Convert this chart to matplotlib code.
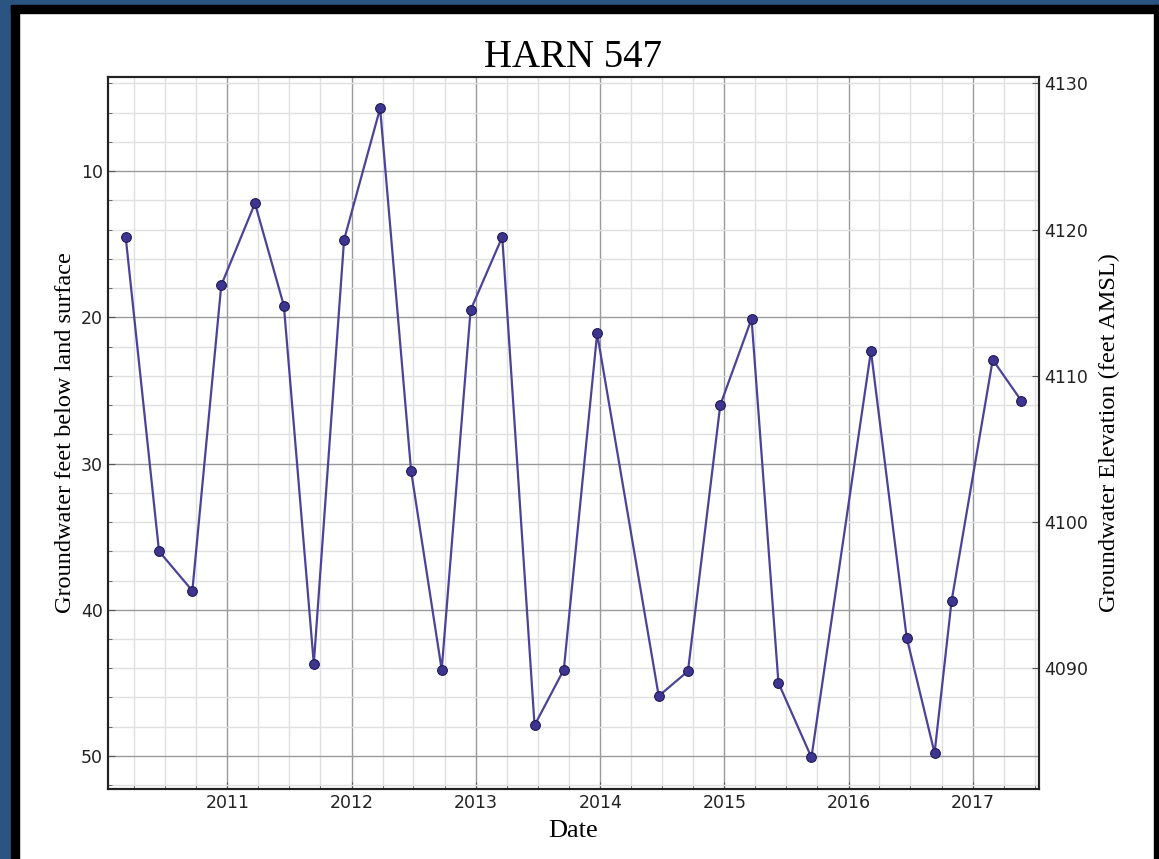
import matplotlib
matplotlib.use("Agg")
import matplotlib.pyplot as plt
import matplotlib.dates as mdates
from matplotlib.patches import Rectangle
from matplotlib.ticker import MultipleLocator
import pandas as pd

# measurement dates and depth to water (ft below land surface)
dates = [
    "2010-03-08", "2010-06-14", "2010-09-20", "2010-12-14",
    "2011-03-23", "2011-06-16", "2011-09-12", "2011-12-10",
    "2012-03-25", "2012-06-24", "2012-09-22", "2012-12-16",
    "2013-03-19", "2013-06-22", "2013-09-16", "2013-12-23",
    "2014-06-22", "2014-09-16", "2014-12-20",
    "2015-03-22", "2015-06-09", "2015-09-14",
    "2016-03-07", "2016-06-20", "2016-09-10", "2016-10-30",
    "2017-02-28", "2017-05-23",
]
depth_ft = [
    14.5, 36.0, 38.7, 17.8,
    12.2, 19.2, 43.7, 14.7,
    5.7, 30.5, 44.1, 19.5,
    14.5, 47.9, 44.1, 21.1,
    45.9, 44.2, 26.0,
    20.1, 45.0, 50.1,
    22.3, 41.9, 49.8, 39.4,
    22.9, 25.7,
]
land_surface_elev = 4134.0
depth_ticks = [10, 20, 30, 40, 50]
elev_ticks = [4090, 4100, 4110, 4120, 4130]

x = pd.to_datetime(dates)

fig = plt.figure(figsize=(11.59, 8.59), dpi=100)
fig.patch.set_facecolor("white")
# slide frame around the picture
fig.patches.append(Rectangle((0, 0), 11 / 1159, 1, transform=fig.transFigure, color="#2b5580", zorder=0))
fig.patches.append(Rectangle((11 / 1159, 0), 8 / 1159, 1, transform=fig.transFigure, color="black", zorder=0))
fig.patches.append(Rectangle((0, 1 - 5 / 859), 1, 5 / 859, transform=fig.transFigure, color="#2b5580", zorder=0))
fig.patches.append(Rectangle((11 / 1159, 1 - 13 / 859), 1, 8 / 859, transform=fig.transFigure, color="black", zorder=0))
fig.patches.append(Rectangle((1 - 5 / 1159, 0), 5 / 1159, 1 - 5 / 859, transform=fig.transFigure, color="black", zorder=0))

ax = fig.add_axes([108 / 1159, 1 - 789 / 859, 931 / 1159, 712 / 859])
ax.plot(x, depth_ft, color="#4a4399", linewidth=1.6, marker="o", markersize=7,
        markerfacecolor="#3d3590", markeredgecolor="#1f1a55", markeredgewidth=0.8, zorder=3)

ax.set_xlim(pd.Timestamp("2010-01-15"), pd.Timestamp("2017-07-14"))
ax.set_ylim(52.26, 3.56)
ax.set_yticks(depth_ticks)
ax.yaxis.set_minor_locator(MultipleLocator(2))
ax.xaxis.set_major_locator(mdates.YearLocator())
ax.xaxis.set_major_formatter(mdates.DateFormatter("%Y"))
ax.xaxis.set_minor_locator(mdates.MonthLocator(bymonth=[1, 4, 7, 10]))

ax.grid(which="major", color="#9a9a9a", linewidth=1.0)
ax.grid(which="minor", color="#e0e0e0", linewidth=1.0)
ax.set_axisbelow(True)
ax.tick_params(which="both", direction="in", labelsize=12.5, labelcolor="#222222", color="#555555")
ax.tick_params(which="major", length=5)
ax.tick_params(which="minor", length=3)
for s in ax.spines.values():
    s.set_linewidth(1.5)
    s.set_color("#222222")

serif = "Liberation Serif"
ax.set_title("HARN 547", fontsize=28, family=serif, pad=7)
ax.set_xlabel("Date", fontsize=19, family=serif, labelpad=6)
ax.set_ylabel("Groundwater feet below land surface", fontsize=17.5, family=serif, labelpad=4)

ax2 = ax.twinx()
lo, hi = ax.get_ylim()
ax2.set_ylim(land_surface_elev - lo, land_surface_elev - hi)
ax2.set_yticks(elev_ticks)
ax2.tick_params(direction="in", length=5, labelsize=12.5, labelcolor="#222222", color="#555555")
ax2.set_ylabel("Groundwater Elevation (feet AMSL)", fontsize=17.5, family=serif, labelpad=8)
for s in ax2.spines.values():
    s.set_linewidth(1.5)
    s.set_color("#222222")

fig.savefig("out.png", dpi=100)
